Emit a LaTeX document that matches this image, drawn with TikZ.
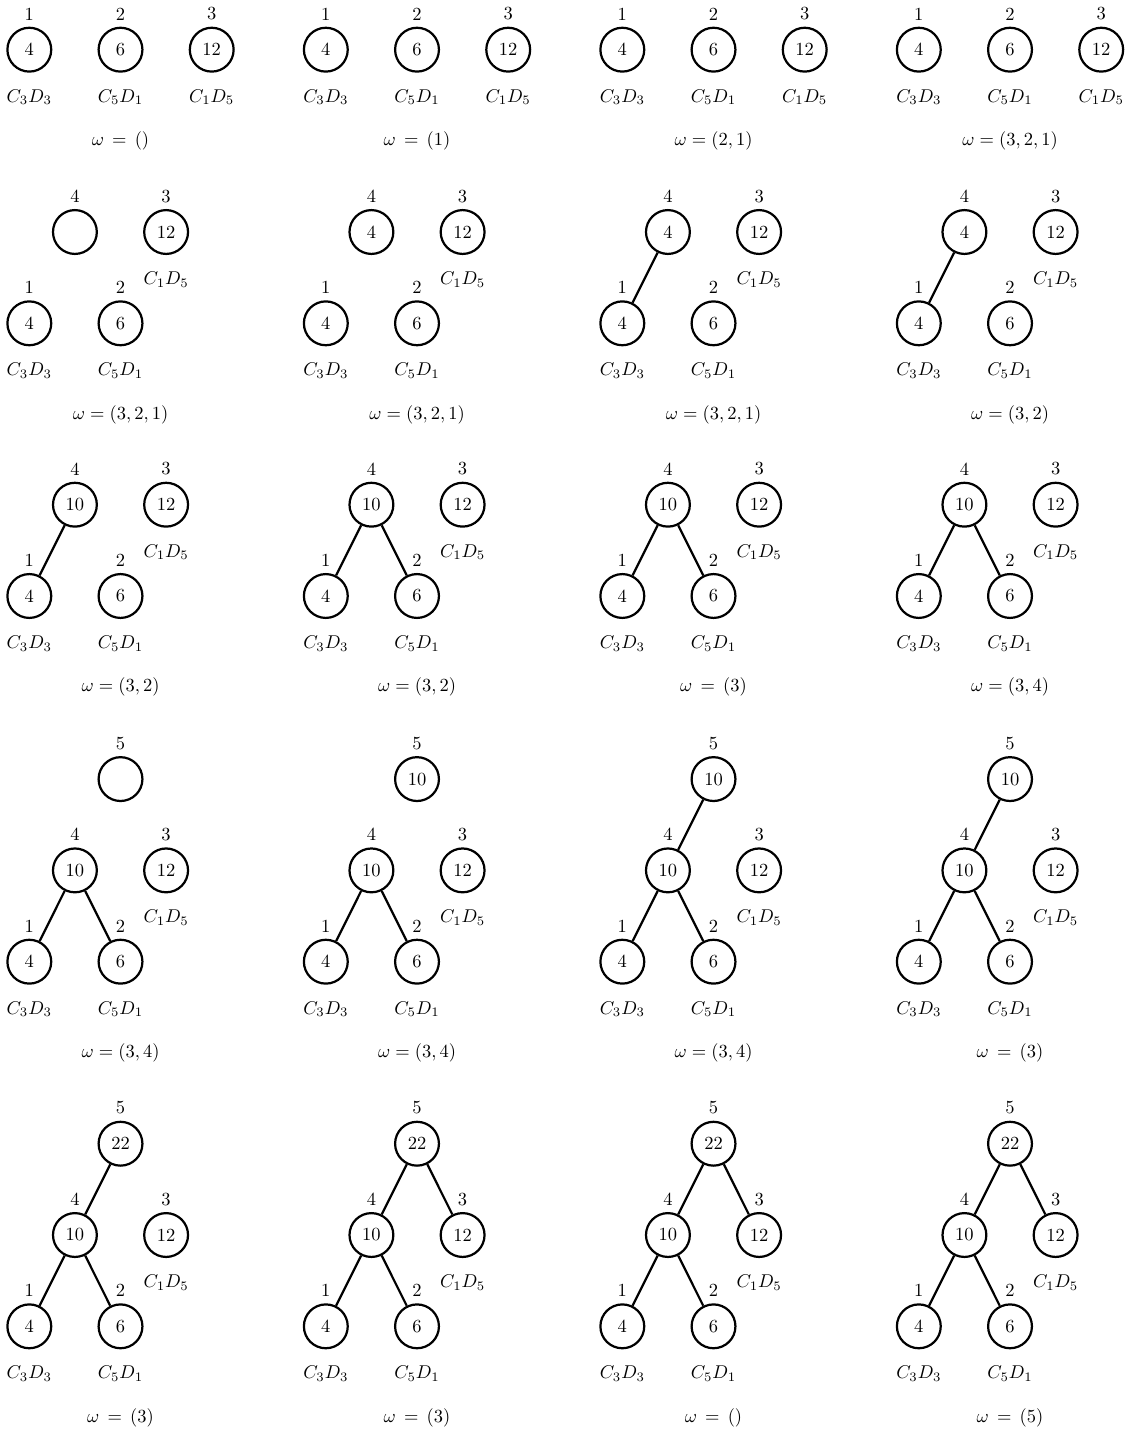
\documentclass[tikz,border=0pt]{standalone}
\usepackage{amsmath}
\tikzset{
  vtx/.style={circle, draw, very thick, minimum size=23.7pt, inner sep=0pt},
  link/.style={very thick},
  cl/.style={label distance=5.5pt},
}
% leaves 1, 2 and tree 3 of one panel; #1 = prefix, #2 = place of tree 3
\newcommand{\basetrees}[2]{%
  \node[vtx, label=above:1, label={[cl]below:$C_3D_3$}] (#1-1) at (0,0) {4};
  \node[vtx, label=above:2, label={[cl]below:$C_5D_1$}] (#1-2) at (2,0) {6};
  \node[vtx, label=above:3, label={[cl]below:$C_1D_5$}] (#1-3) at (#2) {12};
}

\begin{document}
\begin{tikzpicture}[x=0.8664cm, y=1.7347cm]
  \useasboundingbox (0,0) rectangle (21.375cm,-27.17cm);

  % row 1: three single trees
  \foreach \c/\w in {0/{\omega\,=\,()}, 1/{\omega\,=\,(1)}, 2/{\omega=(2,1)}, 3/{\omega=(3,2,1)}} {
    \begin{scope}[shift={(0.557cm+\c*5.6335cm,-0.944cm)}]
      \basetrees{a\c}{4,0}
      \node (a\c-w) at (2,-1) {$\w$};
    \end{scope}
  }

  % row 2
  \begin{scope}[shift={(0.557cm,-6.143cm)}]
    \basetrees{b0}{3,1}
    \node[vtx, label=above:4] (b0-4) at (1,1) {};
    \node (b0-w) at (2,-1) {$\omega=(3,2,1)$};
  \end{scope}
  \begin{scope}[shift={(6.1905cm,-6.143cm)}]
    \basetrees{b1}{3,1}
    \node[vtx, label=above:4] (b1-4) at (1,1) {4};
    \node (b1-w) at (2,-1) {$\omega=(3,2,1)$};
  \end{scope}
  \begin{scope}[shift={(11.824cm,-6.143cm)}]
    \basetrees{b2}{3,1}
    \node[vtx, label=above:4] (b2-4) at (1,1) {4};
    \draw[link] (b2-4) -- (b2-1);
    \node (b2-w) at (2,-1) {$\omega=(3,2,1)$};
  \end{scope}
  \begin{scope}[shift={(17.4575cm,-6.143cm)}]
    \basetrees{b3}{3,1}
    \node[vtx, label=above:4] (b3-4) at (1,1) {4};
    \draw[link] (b3-4) -- (b3-1);
    \node (b3-w) at (2,-1) {$\omega=(3,2)$};
  \end{scope}

  % row 3
  \begin{scope}[shift={(0.557cm,-11.324cm)}]
    \basetrees{c0}{3,1}
    \node[vtx, label=above:4] (c0-4) at (1,1) {10};
    \draw[link] (c0-4) -- (c0-1);
    \node (c0-w) at (2,-1) {$\omega=(3,2)$};
  \end{scope}
  \begin{scope}[shift={(6.1905cm,-11.324cm)}]
    \basetrees{c1}{3,1}
    \node[vtx, label=above:4] (c1-4) at (1,1) {10};
    \draw[link] (c1-1) -- (c1-4) -- (c1-2);
    \node (c1-w) at (2,-1) {$\omega=(3,2)$};
  \end{scope}
  \begin{scope}[shift={(11.824cm,-11.324cm)}]
    \basetrees{c2}{3,1}
    \node[vtx, label=above:4] (c2-4) at (1,1) {10};
    \draw[link] (c2-1) -- (c2-4) -- (c2-2);
    \node (c2-w) at (2,-1) {$\omega\,=\,(3)$};
  \end{scope}
  \begin{scope}[shift={(17.4575cm,-11.324cm)}]
    \basetrees{c3}{3,1}
    \node[vtx, label=above:4] (c3-4) at (1,1) {10};
    \draw[link] (c3-1) -- (c3-4) -- (c3-2);
    \node (c3-w) at (2,-1) {$\omega=(3,4)$};
  \end{scope}

  % row 4
  \begin{scope}[shift={(0.557cm,-18.272cm)}]
    \basetrees{d0}{3,1}
    \node[vtx, label=above:4] (d0-4) at (1,1) {10};
    \node[vtx, label=above:5] (d0-5) at (2,2) {};
    \draw[link] (d0-1) -- (d0-4) -- (d0-2);
    \node (d0-w) at (2,-1) {$\omega=(3,4)$};
  \end{scope}
  \begin{scope}[shift={(6.1905cm,-18.272cm)}]
    \basetrees{d1}{3,1}
    \node[vtx, label=above:4] (d1-4) at (1,1) {10};
    \node[vtx, label=above:5] (d1-5) at (2,2) {10};
    \draw[link] (d1-1) -- (d1-4) -- (d1-2);
    \node (d1-w) at (2,-1) {$\omega=(3,4)$};
  \end{scope}
  \begin{scope}[shift={(11.824cm,-18.272cm)}]
    \basetrees{d2}{3,1}
    \node[vtx, label=above:4] (d2-4) at (1,1) {10};
    \node[vtx, label=above:5] (d2-5) at (2,2) {10};
    \draw[link] (d2-1) -- (d2-4) -- (d2-2);
    \draw[link] (d2-4) -- (d2-5);
    \node (d2-w) at (2,-1) {$\omega=(3,4)$};
  \end{scope}
  \begin{scope}[shift={(17.4575cm,-18.272cm)}]
    \basetrees{d3}{3,1}
    \node[vtx, label=above:4] (d3-4) at (1,1) {10};
    \node[vtx, label=above:5] (d3-5) at (2,2) {10};
    \draw[link] (d3-1) -- (d3-4) -- (d3-2);
    \draw[link] (d3-4) -- (d3-5);
    \node (d3-w) at (2,-1) {$\omega\,=\,(3)$};
  \end{scope}

  % row 5
  \begin{scope}[shift={(0.557cm,-25.20cm)}]
    \basetrees{e0}{3,1}
    \node[vtx, label=above:4] (e0-4) at (1,1) {10};
    \node[vtx, label=above:5] (e0-5) at (2,2) {22};
    \draw[link] (e0-1) -- (e0-4) -- (e0-2);
    \draw[link] (e0-4) -- (e0-5);
    \node (e0-w) at (2,-1) {$\omega\,=\,(3)$};
  \end{scope}
  \begin{scope}[shift={(6.1905cm,-25.20cm)}]
    \basetrees{e1}{3,1}
    \node[vtx, label=above:4] (e1-4) at (1,1) {10};
    \node[vtx, label=above:5] (e1-5) at (2,2) {22};
    \draw[link] (e1-1) -- (e1-4) -- (e1-2);
    \draw[link] (e1-4) -- (e1-5) -- (e1-3);
    \node (e1-w) at (2,-1) {$\omega\,=\,(3)$};
  \end{scope}
  \begin{scope}[shift={(11.824cm,-25.20cm)}]
    \basetrees{e2}{3,1}
    \node[vtx, label=above:4] (e2-4) at (1,1) {10};
    \node[vtx, label=above:5] (e2-5) at (2,2) {22};
    \draw[link] (e2-1) -- (e2-4) -- (e2-2);
    \draw[link] (e2-4) -- (e2-5) -- (e2-3);
    \node (e2-w) at (2,-1) {$\omega\,=\,()$};
  \end{scope}
  \begin{scope}[shift={(17.4575cm,-25.20cm)}]
    \basetrees{e3}{3,1}
    \node[vtx, label=above:4] (e3-4) at (1,1) {10};
    \node[vtx, label=above:5] (e3-5) at (2,2) {22};
    \draw[link] (e3-1) -- (e3-4) -- (e3-2);
    \draw[link] (e3-4) -- (e3-5) -- (e3-3);
    \node (e3-w) at (2,-1) {$\omega\,=\,(5)$};
  \end{scope}
\end{tikzpicture}
\end{document}
